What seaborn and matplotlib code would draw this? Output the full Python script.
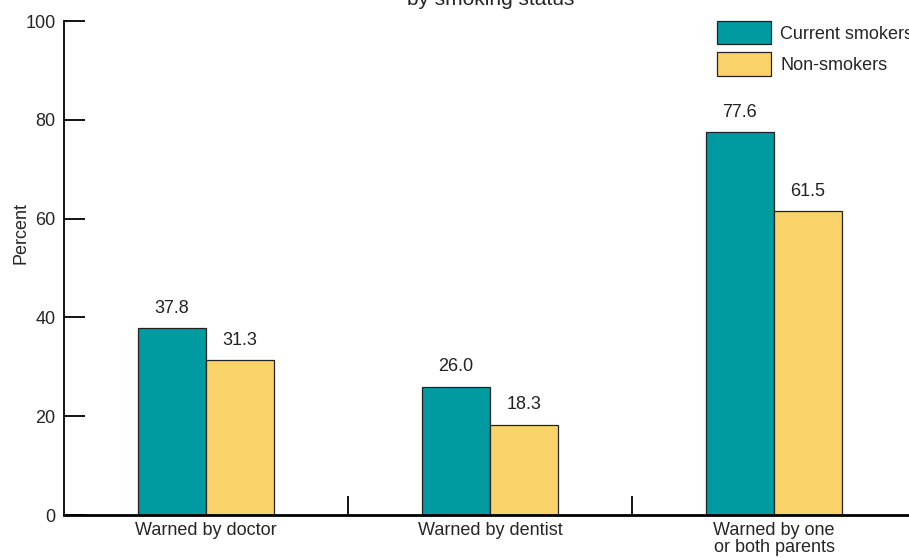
import matplotlib
matplotlib.use("Agg")
import matplotlib.pyplot as plt
import seaborn as sns
import pandas as pd
from matplotlib.patches import Patch

categories = ["Warned by doctor", "Warned by dentist", "Warned by one\nor both parents"]
groups = ["Current smokers", "Non-smokers"]
smokers = [37.8, 26.0, 77.6]
non_smokers = [31.3, 18.3, 61.5]
y_ticks = [0, 20, 40, 60, 80, 100]

TEAL = "#009BA1"
YELLOW = "#F9D36A"

sns.set_style("white")
plt.rcParams["font.family"] = ["Liberation Sans Narrow", "Liberation Sans", "DejaVu Sans"]
plt.rcParams["font.size"] = 13

df = pd.DataFrame({
    "category": categories * 2,
    "group": [groups[0]] * 3 + [groups[1]] * 3,
    "value": smokers + non_smokers,
})

fig = plt.figure(figsize=(9.09, 5.58), dpi=100)
ax = fig.add_axes([64 / 909, 43 / 558, 852 / 909, 494 / 558])

sns.barplot(data=df, x="category", y="value", hue="group", order=categories,
            hue_order=groups, palette=[TEAL, YELLOW], width=0.48,
            edgecolor="#222222", linewidth=0.9, saturation=1, legend=False, ax=ax)

# value labels above bars
for cont in ax.containers:
    ax.bar_label(cont, fmt="%.1f", padding=8, fontsize=13, color="#222222")

ax.set_xlim(-0.5, 2.5)
ax.set_ylim(0, 100)
ax.set_yticks(y_ticks)
ax.tick_params(axis="y", left=True, direction="in", length=15, width=1.3,
               color="black", pad=6, labelsize=13)
ax.tick_params(axis="x", length=0, pad=5, labelsize=13)
for lbl in ax.get_xticklabels():
    lbl.set_linespacing(1.0)
ax.set_xticks([0.5, 1.5], minor=True)
ax.tick_params(axis="x", which="minor", bottom=True, direction="in", length=14,
               width=1.3, color="black")
ax.set_xlabel("")
ax.set_ylabel("Percent", fontsize=13)
ax.yaxis.set_label_coords(-0.041, 0.57)

for s in ["top", "right"]:
    ax.spines[s].set_visible(False)
ax.spines["left"].set_linewidth(1.3)
ax.spines["bottom"].set_linewidth(2)
ax.spines["left"].set_color("black")
ax.spines["bottom"].set_color("black")

handles = [Patch(facecolor=TEAL, edgecolor="#222222", linewidth=0.9),
           Patch(facecolor=YELLOW, edgecolor="#222222", linewidth=0.9)]
fig.legend(handles, groups, loc="upper left", bbox_to_anchor=(717 / 909, 1 - 21 / 558),
           frameon=False, borderpad=0, borderaxespad=0, handlelength=3.0,
           handleheight=1.6, labelspacing=0.45, handletextpad=0.5, fontsize=13)

fig.text(491 / 909, 1 - 5 / 558, "by smoking status", ha="center", va="baseline", fontsize=15)

fig.savefig("out.png", dpi=100)
